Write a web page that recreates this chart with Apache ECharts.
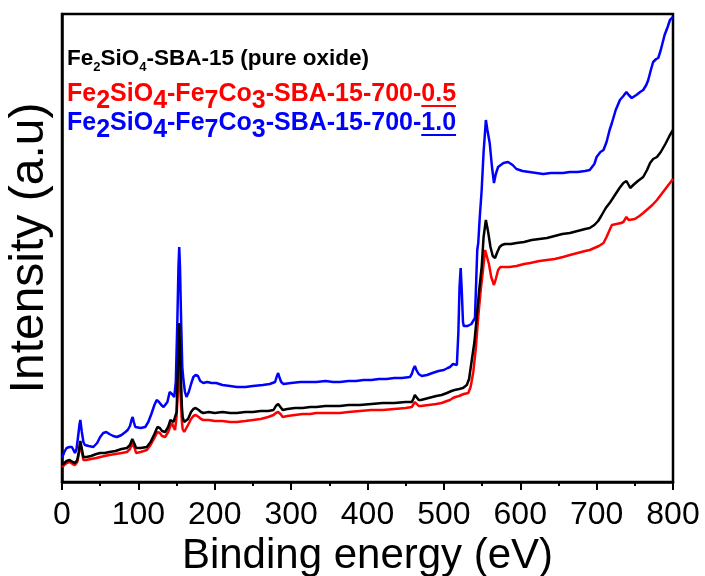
<!DOCTYPE html>
<html>
<head>
<meta charset="utf-8">
<script src="https://cdn.jsdelivr.net/npm/echarts@6/dist/echarts.min.js"></script>
<style>
  html, body { margin: 0; padding: 0; background: #fff; }
  #chart { width: 705px; height: 576px; }
</style>
</head>
<body>
<div id="chart"></div>
<script>
// XPS survey spectra, intensity in arbitrary units (0 = bottom of frame)
const xTicks = [0, 100, 200, 300, 400, 500, 600, 700, 800];

const pureOxide = [
  [0,17],[3,19],[6,21],[10,22],[14,20],[17,19],[20,22],[22,30],[24,41],[26,33],[28,25],[32,25],[38,26],
  [45,28],[50,29],[56,29],[62,30],[70,31],[78,33],[85,34],[89,37],[92,43],[95,38],[97,34],[103,34],
  [111,35],[116,40],[121,48],[125,55],[128,54],[131,51],[135,50],[139,55],[142,62],[144,64],[146,60],
  [148,58],[150,70],[152,120],[153.5,159],[155,120],[157,75],[158,65],[160,60],[162,59],[165,63],
  [169,70],[172,73],[175,74],[179,72],[182,70],[185,69],[192,70],[200,69],[210,70],[220,69],[229,69],
  [240,70],[250,70],[260,71],[270,71],[277,72],[280,76],[283,78],[286,75],[289,72],[295,73],[305,74],
  [315,74],[325,75],[333,75],[345,76],[355,76],[364,76],[375,77],[390,77],[405,78],[420,79],[435,79],
  [450,80],[458,80],[460,83],[462,87],[464,85],[467,82],[470,82],[480,84],[490,86],[497,87],[504,89],
  [510,91],[514,92],[520,93],[525,94],[530,97],[533,103],[536,119],[540,140],[543,165],[546,190],
  [549.5,215],[552,245],[555,262],[558,250],[561,235],[564,226],[567,224],[570,230],[573,235],[576,237],
  [580,238],[588,238],[595,239],[605,240],[615,242],[625,243],[635,244],[645,246],[655,248],[665,249],
  [675,251],[685,253],[691,254],[697,257],[702,261],[706,266],[712,274],[718,280],[724,287],[730,294],
  [735,299],[739,301],[742,297],[744,294],[748,297],[754,301],[761,305],[766,312],[770,319],[774,323],
  [779,325],[784,330],[790,338],[796,347],[800,352]
];

const sample05 = [
  [0,15],[3,17],[6,19],[10,20],[14,18],[17,17],[20,20],[22,28],[24,39],[26,30],[28,22],[32,22],[38,23],
  [45,24],[50,25],[56,26],[62,27],[70,28],[78,29],[85,30],[89,33],[92,39],[95,34],[97,29],[103,30],
  [111,32],[116,37],[121,44],[125,50],[128,49],[131,46],[135,45],[139,50],[142,56],[144,59],[146,55],
  [148,52],[150,65],[152,95],[153.5,115],[155,90],[157,60],[158,53],[160,50],[162,52],[165,57],[169,63],
  [172,66],[175,67],[179,65],[182,63],[185,62],[192,62],[200,61],[210,61],[220,60],[229,60],[240,61],
  [250,62],[260,63],[270,65],[277,67],[280,69],[283,70],[286,68],[289,65],[295,66],[305,67],[315,68],
  [325,68],[333,69],[345,69],[355,69],[364,69],[375,70],[390,71],[405,72],[420,72],[435,73],[450,74],
  [458,75],[460,77],[462,80],[464,78],[467,76],[470,76],[480,77],[490,78],[497,79],[504,81],[508,82],
  [512,84],[515,85],[520,86],[526,88],[532,89],[535,95],[538.5,110],[542,135],[545,165],[548,190],
  [551.6,215],[554,232],[556,230],[559,218],[562,205],[565.6,197],[568,203],[571,212],[574,215],[580,215],
  [586,215],[595,216],[605,218],[613,219],[625,221],[635,222],[645,223],[656,225],[665,227],[675,229],
  [685,231],[691,232],[697,234],[703,236],[709,239],[713,245],[717,252],[720,257],[726,258],[732,259],
  [735,260],[739,265],[742,262],[744,260],[750,263],[756,266],[761,269],[767,273],[773,277],[779,282],
  [785,288],[791,294],[796,299],[800,303]
];

const sample10 = [
  [0,24],[3,30],[6,34],[10,35],[13,35],[15,32],[17,29],[19,33],[21,45],[23,58],[24,62],[26,50],[28,40],
  [30,37],[35,36],[41,35],[46,39],[50,45],[54,49],[58,50],[62,48],[67,46],[72,45],[78,47],[83,50],[86,52],
  [89,56],[91,62],[92.5,65],[94,60],[96,55],[98,54],[103,54],[109,55],[113,60],[117,68],[121,77],[124,82],
  [127,80],[130,77],[133,75],[135,75],[138,80],[141,90],[142,92],[144,88],[147,85],[149,100],[151,160],
  [152.5,215],[153.5,235],[154.5,215],[156,160],[157.5,115],[159,102],[161,90],[163,85],[166,90],[169,98],
  [172,105],[175,107],[178,106],[181,101],[185,99],[190,100],[196,99],[202,99],[210,97],[220,96],[229,95],
  [240,95],[250,96],[263,97],[272,98],[279,100],[281,105],[283,109],[285,104],[287,100],[290,98],[300,99],
  [312,100],[322,100],[333,100],[345,101],[355,100],[364,100],[375,101],[385,101],[395,102],[405,102],
  [415,103],[425,103],[435,104],[445,104],[455.6,105],[458,108],[460,113],[462,116],[464,112],[467,108],
  [471,106],[478,107],[485,109],[493,111],[500,112],[505,114],[508,115],[512,118],[514.5,119],[517,117],
  [519,150],[520.5,195],[522,214],[523.5,190],[525,160],[526,156],[531,156],[536,158],[540.7,164],
  [543.7,232],[545,239],[547,265],[549.5,292],[552,330],[555,362],[557,352],[560,339],[563,315],
  [565.6,299],[568,308],[571,315],[573,317],[578,319],[584,320],[590,317],[595,313],[603,311],[612,310],
  [621,309],[630,308],[640,309],[648,309],[656,309],[665,310],[675,310],[685,311],[691,312],[697,318],
  [700,325],[705,330],[709,332],[713,340],[717,352],[720,359],[725,372],[730.5,382],[735,386],[739,390],
  [742,387],[746,384],[752,387],[757,390],[761,392],[765,397],[767.6,402],[771,412],[774,420],[778,423],
  [780.7,424],[784,432],[789,447],[793,455],[796,462],[800,465]
];

// legend lines: [text, subscript?, underline?]
const labelPure = [['Fe',0],['2',1],['SiO',0],['4',1],['-SBA-15 (pure oxide)',0]];
const label05 = [['Fe',0],['2',1],['SiO',0],['4',1],['-Fe',0],['7',1],['Co',0],['3',1],['-SBA-15-700-',0],['0.5',0,1]];
const label10 = [['Fe',0],['2',1],['SiO',0],['4',1],['-Fe',0],['7',1],['Co',0],['3',1],['-SBA-15-700-',0],['1.0',0,1]];

const FONT = '"Liberation Sans", Arial, sans-serif';
const measureCtx = document.createElement('canvas').getContext('2d');

function legendLine(parts, x, baseline, size, subSize, subDrop, color) {
  const children = [];
  let cx = x;
  parts.forEach(p => {
    const fs = p[1] ? subSize : size;
    const font = 'bold ' + fs + 'px ' + FONT;
    measureCtx.font = font;
    const w = measureCtx.measureText(p[0]).width;
    const base = baseline + (p[1] ? subDrop : 0);
    children.push({
      type: 'text', x: cx, y: base - 0.3465 * fs, z: 100,
      style: { text: p[0], font: font, fill: color, align: 'left', verticalAlign: 'middle',
               textAlign: 'left', textVerticalAlign: 'middle' }
    });
    if (p[2]) {
      children.push({ type: 'rect', z: 100, shape: { x: cx, y: base + 2, width: w, height: 2 }, style: { fill: color } });
    }
    cx += w;
  });
  return children;
}

const chart = echarts.init(document.getElementById('chart'), null, { renderer: 'canvas' });

const seriesStyle = (name, data, color) => ({
  name: name, type: 'line', data: data, showSymbol: false, symbol: 'none',
  lineStyle: { color: color, width: 2.5 }, animation: false
});

chart.setOption({
  animation: false,
  backgroundColor: '#fff',
  grid: { left: 62, right: 32, top: 14, bottom: 94, show: true, borderColor: '#000', borderWidth: 2.5,
          containLabel: false, outerBoundsMode: 'none' },
  xAxis: {
    type: 'value', min: 0, max: 800, interval: 100,
    name: 'Binding energy (eV)', nameLocation: 'middle', nameGap: 45,
    nameTextStyle: { fontSize: 42, fontFamily: FONT, color: '#000' },
    axisLine: { onZero: false, lineStyle: { color: '#000', width: 2.5 } },
    axisTick: { show: true, inside: false, length: 8, lineStyle: { color: '#000', width: 2 } },
    minorTick: { show: true, splitNumber: 2, length: 4, lineStyle: { color: '#000', width: 2 } },
    axisLabel: { fontSize: 32, fontFamily: FONT, color: '#000', margin: 17,
                 formatter: v => xTicks.includes(v) ? String(v) : '' },
    splitLine: { show: false }
  },
  yAxis: {
    type: 'value', min: 0, max: 468,
    name: 'Intensity (a.u)', nameLocation: 'middle', nameGap: 8, nameRotate: 90,
    nameTextStyle: { fontSize: 48, fontFamily: FONT, color: '#000' },
    axisLine: { show: true, lineStyle: { color: '#000', width: 2.5 } },
    axisTick: { show: false },
    axisLabel: { show: false },
    splitLine: { show: false }
  },
  series: [
    seriesStyle('Fe2SiO4-Fe7Co3-SBA-15-700-1.0', sample10, '#0000ff'),
    seriesStyle('Fe2SiO4-Fe7Co3-SBA-15-700-0.5', sample05, '#ff0000'),
    seriesStyle('Fe2SiO4-SBA-15 (pure oxide)', pureOxide, '#000000')
  ],
  graphic: [
    { type: 'group', children: legendLine(labelPure, 67, 67, 22.5, 13, 5, '#000') },
    { type: 'group', children: legendLine(label05, 67, 103, 25, 25, 7, '#ff0000') },
    { type: 'group', children: legendLine(label10, 67, 132, 25, 25, 7, '#0000ff') }
  ]
});
</script>
</body>
</html>
